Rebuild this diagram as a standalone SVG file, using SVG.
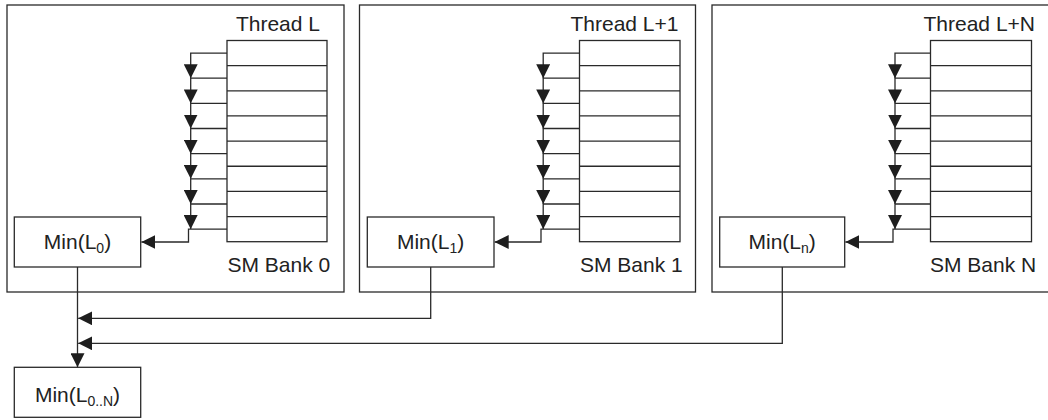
<svg xmlns="http://www.w3.org/2000/svg" width="1048" height="420" viewBox="0 0 1048 420">
<defs>
<marker id="arr" viewBox="0 0 14 14" refX="14" refY="7" markerWidth="14" markerHeight="14" markerUnits="userSpaceOnUse" orient="auto">
<path d="M0,0 L14,7 L0,14 z" fill="#1e1e1e" stroke="none"/>
</marker>
</defs>
<style>
rect, line, path.c { fill: none; stroke: #2a2a2a; stroke-width: 1.3; }
rect.node { fill: #ffffff; }
text { font-family: "Liberation Sans", Arial, sans-serif; font-size: 21px; fill: #222; }
.sub { font-size: 14px; }
path.c { marker-end: url(#arr); }
</style>

<g id="bank0">
<rect x="7" y="5" width="337" height="287"/>
<text x="320" y="31" text-anchor="end">Thread L</text>
<text x="227.5" y="272">SM Bank 0</text>
</g>
<g id="stack0">
<rect x="227" y="40.5" width="100" height="201.2"/>
<line x1="227" y1="65.65" x2="327" y2="65.65"/>
<line x1="227" y1="90.8" x2="327" y2="90.8"/>
<line x1="227" y1="115.95" x2="327" y2="115.95"/>
<line x1="227" y1="141.1" x2="327" y2="141.1"/>
<line x1="227" y1="166.25" x2="327" y2="166.25"/>
<line x1="227" y1="191.4" x2="327" y2="191.4"/>
<line x1="227" y1="216.55" x2="327" y2="216.55"/>
</g>
<g id="min0">
<rect class="node" x="14.3" y="217" width="126.4" height="50"/>
<text x="77.5" y="248.5" text-anchor="middle">Min(L<tspan class="sub" dy="4">0</tspan><tspan dy="-4">)</tspan></text>
</g>

<g id="bank1">
<rect x="359.5" y="5" width="336" height="287"/>
<text x="678.5" y="31" text-anchor="end">Thread L+1</text>
<text x="580" y="272">SM Bank 1</text>
</g>
<g id="stack1">
<rect x="579.5" y="40.5" width="100.5" height="201.2"/>
<line x1="579.5" y1="65.65" x2="680" y2="65.65"/>
<line x1="579.5" y1="90.8" x2="680" y2="90.8"/>
<line x1="579.5" y1="115.95" x2="680" y2="115.95"/>
<line x1="579.5" y1="141.1" x2="680" y2="141.1"/>
<line x1="579.5" y1="166.25" x2="680" y2="166.25"/>
<line x1="579.5" y1="191.4" x2="680" y2="191.4"/>
<line x1="579.5" y1="216.55" x2="680" y2="216.55"/>
</g>
<g id="min1">
<rect class="node" x="367.3" y="217" width="126.7" height="50"/>
<text x="430.6" y="248.5" text-anchor="middle">Min(L<tspan class="sub" dy="4">1</tspan><tspan dy="-4">)</tspan></text>
</g>

<g id="bankN">
<rect x="712" y="5" width="345" height="287"/>
<text x="1035" y="31" text-anchor="end">Thread L+N</text>
<text x="930" y="272">SM Bank N</text>
</g>
<g id="stackN">
<rect x="930.5" y="40.5" width="101" height="201.2"/>
<line x1="930.5" y1="65.65" x2="1031.5" y2="65.65"/>
<line x1="930.5" y1="90.8" x2="1031.5" y2="90.8"/>
<line x1="930.5" y1="115.95" x2="1031.5" y2="115.95"/>
<line x1="930.5" y1="141.1" x2="1031.5" y2="141.1"/>
<line x1="930.5" y1="166.25" x2="1031.5" y2="166.25"/>
<line x1="930.5" y1="191.4" x2="1031.5" y2="191.4"/>
<line x1="930.5" y1="216.55" x2="1031.5" y2="216.55"/>
</g>
<g id="minN">
<rect class="node" x="719.7" y="217" width="125" height="50"/>
<text x="782.2" y="248.5" text-anchor="middle">Min(L<tspan class="sub" dy="4">n</tspan><tspan dy="-4">)</tspan></text>
</g>

<g id="minAll">
<rect class="node" x="14.3" y="367.3" width="126.4" height="50"/>
<text x="77.5" y="401.7" text-anchor="middle">Min(L<tspan class="sub" dy="4">0..N</tspan><tspan dy="-4">)</tspan></text>
</g>

<g id="connectors">
<path class="c" d="M227,53.1 H190.7 V78.2"/>
<path class="c" d="M227,78.2 H190.7 V103.4"/>
<path class="c" d="M227,103.4 H190.7 V128.5"/>
<path class="c" d="M227,128.5 H190.7 V153.7"/>
<path class="c" d="M227,153.7 H190.7 V178.8"/>
<path class="c" d="M227,178.8 H190.7 V204"/>
<path class="c" d="M227,204 H190.7 V229.1"/>
<path class="c" d="M227,229.1 H188.5 V242 H141.4"/>

<path class="c" d="M579.5,53.1 H543.2 V78.2"/>
<path class="c" d="M579.5,78.2 H543.2 V103.4"/>
<path class="c" d="M579.5,103.4 H543.2 V128.5"/>
<path class="c" d="M579.5,128.5 H543.2 V153.7"/>
<path class="c" d="M579.5,153.7 H543.2 V178.8"/>
<path class="c" d="M579.5,178.8 H543.2 V204"/>
<path class="c" d="M579.5,204 H543.2 V229.1"/>
<path class="c" d="M579.5,229.1 H541 V242 H494.7"/>

<path class="c" d="M930.5,53.1 H895 V78.2"/>
<path class="c" d="M930.5,78.2 H895 V103.4"/>
<path class="c" d="M930.5,103.4 H895 V128.5"/>
<path class="c" d="M930.5,128.5 H895 V153.7"/>
<path class="c" d="M930.5,153.7 H895 V178.8"/>
<path class="c" d="M930.5,178.8 H895 V204"/>
<path class="c" d="M930.5,204 H895 V229.1"/>
<path class="c" d="M930.5,229.1 H893 V242 H845.4"/>

<path class="c" d="M77.5,267 V367.3"/>
<path class="c" d="M430.7,267 V318.3 H78.2"/>
<path class="c" d="M782.3,267 V343.3 H78.2"/>
</g>
</svg>
